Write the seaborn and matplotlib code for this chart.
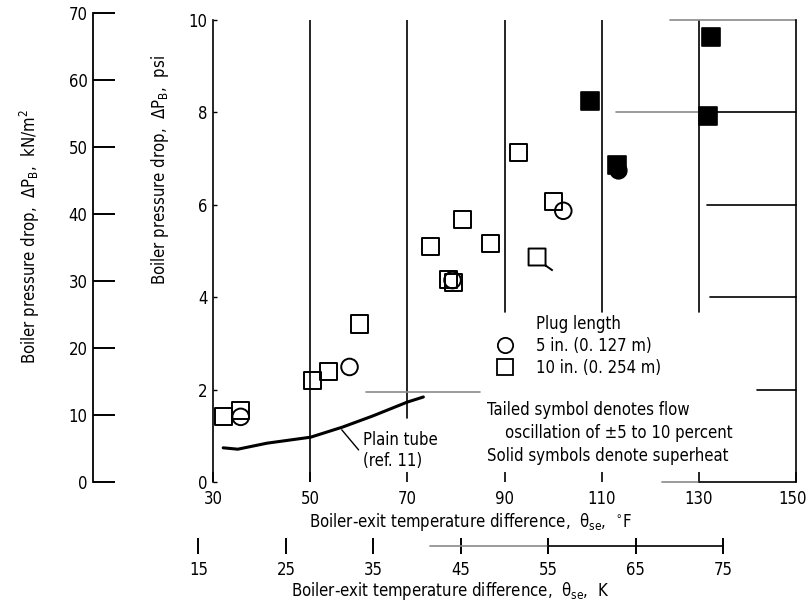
import numpy as np
import pandas as pd
import seaborn as sns
import matplotlib
matplotlib.use('Agg')
from matplotlib import pyplot as plt
from matplotlib import font_manager
from matplotlib import transforms
from matplotlib.lines import Line2D
from matplotlib.path import Path

# boiler-exit temperature difference (F) and pressure drop (psi)
temp_5in_open = [35.7, 58.1, 79.3, 102.1]
dp_5in_open = [1.41, 2.49, 4.37, 5.87]

temp_10in_open = [32.1, 35.7, 50.5, 53.8, 60.2, 74.8, 78.5, 79.5, 81.3, 87.1, 92.8, 100.0]
dp_10in_open = [1.41, 1.54, 2.19, 2.40, 3.42, 5.09, 4.39, 4.31, 5.69, 5.17, 7.14, 6.08]

temp_10in_tailed = [96.7]
dp_10in_tailed = [4.87]

temp_5in_solid = [113.4]
dp_5in_solid = [6.75]

temp_10in_solid = [107.6, 113.2, 131.8, 132.5]
dp_10in_solid = [8.25, 6.86, 7.92, 9.63]

# plain tube curve (ref. 11)
plain_temp = [32.1, 35.1, 41.1, 50.1, 56.7, 62.9, 70.0, 73.3]
plain_dp = [0.74, 0.71, 0.84, 0.97, 1.19, 1.43, 1.73, 1.84]

x_ticks_f = [30, 50, 70, 90, 110, 130, 150]
y_ticks_psi = [0, 2, 4, 6, 8, 10]
y_ticks_kn = [0, 10, 20, 30, 40, 50, 60, 70]
x_ticks_k = [15, 25, 35, 45, 55, 65, 75]

PSI_TO_KN = 6.894757


def pick_font():
    # want a narrow sans like the original lettering
    fonts = font_manager.fontManager.ttflist
    names = {f.name for f in fonts}
    if 'Liberation Sans Narrow' in names:
        return 'Liberation Sans Narrow', 'normal', 12
    if any(f.name == 'DejaVu Sans' and f.stretch == 'condensed' for f in fonts):
        return 'DejaVu Sans', 'condensed', 12
    return 'DejaVu Sans', 'normal', 10.5


family, stretch, FS = pick_font()

sns.set_style('white')
plt.rcParams['font.family'] = [family, 'DejaVu Sans']
plt.rcParams['font.stretch'] = stretch
plt.rcParams['mathtext.fontset'] = 'custom'
pattern = family if stretch == 'normal' else family + ':stretch=' + stretch
plt.rcParams['mathtext.rm'] = pattern
plt.rcParams['mathtext.it'] = pattern
plt.rcParams['mathtext.default'] = 'rm'
plt.rcParams['font.size'] = FS
plt.rcParams['text.color'] = 'black'
plt.rcParams['xtick.color'] = 'black'
plt.rcParams['ytick.color'] = 'black'

W, H = 808, 605
fig = plt.figure(figsize=(W / 100, H / 100), dpi=100)

# pixel frame of the main plot
px_x0, px_x1 = 213, 796
px_y0, px_y1 = 482, 20
ax = fig.add_axes([px_x0 / W, 1 - px_y0 / H, (px_x1 - px_x0) / W, (px_y0 - px_y1) / H])
ax.set_xlim(30, 150)
ax.set_ylim(0, 10)
for s in ['top', 'bottom']:
    ax.spines[s].set_visible(False)
for s in ['left', 'right']:
    ax.spines[s].set_color('black')
    ax.spines[s].set_linewidth(1.2)

# partial rulings as on the original sheet
vsegs = [(50, 0, 10), (70, 1.38, 10), (90, 3.68, 10), (110, 3.68, 10), (130, 3.68, 10)]
for x, y0, y1 in vsegs:
    ax.plot([x, x], [y0, y1], color='black', lw=1.2, zorder=1)
hsegs = [(10, 124, 150, '#8a8a8a'), (8, 113, 130, '#8a8a8a'), (8, 130, 150, 'black'),
         (6, 131.6, 150, 'black'), (4, 132.4, 150, 'black'), (2, 142, 150, 'black'),
         (0, 122.5, 130, '#8a8a8a'), (0, 130, 150, 'black'), (1.95, 61.5, 85, '#8a8a8a')]
for y, x0, x1, c in hsegs:
    ax.plot([x0, x1], [y, y], color=c, lw=1.2, zorder=1, clip_on=False)

# plain tube curve
sns.lineplot(x=plain_temp, y=plain_dp, color='black', lw=2.2, ax=ax, zorder=2)
ax.annotate('Plain tube\n(ref. 11)', xy=(56.5, 1.13), xytext=(60.9, 0.68),
            ha='left', va='center', fontsize=FS, linespacing=1.25,
            arrowprops=dict(arrowstyle='-', color='black', lw=1,
                            shrinkA=1, shrinkB=0,
                            connectionstyle='angle,angleA=0,angleB=-50,rad=0'))

ms = 150
sns.scatterplot(x=temp_10in_open, y=dp_10in_open, marker='s', s=ms, facecolor='none',
                edgecolor='black', linewidth=1.4, ax=ax, zorder=3)
sns.scatterplot(x=temp_5in_open, y=dp_5in_open, marker='o', s=ms * 0.95, facecolor='none',
                edgecolor='black', linewidth=1.4, ax=ax, zorder=3)
# square with a tail to lower right
tail_marker = Path([(-1, -1), (1, -1), (1, 1), (-1, 1), (-1, -1), (1, -1), (1.85, -1.6)],
                   [Path.MOVETO, Path.LINETO, Path.LINETO, Path.LINETO, Path.CLOSEPOLY,
                    Path.MOVETO, Path.LINETO])
sns.scatterplot(x=temp_10in_tailed, y=dp_10in_tailed, marker=tail_marker, s=ms * 3.4,
                facecolor='none', edgecolor='black', linewidth=1.4, ax=ax, zorder=3)
sns.scatterplot(x=temp_5in_solid, y=dp_5in_solid, marker='o', s=ms * 0.95, color='black',
                edgecolor='black', linewidth=1.2, ax=ax, zorder=3)
sns.scatterplot(x=temp_10in_solid, y=dp_10in_solid, marker='s', s=ms, color='black',
                edgecolor='black', linewidth=1.2, ax=ax, zorder=4)

ax.set_xticks(x_ticks_f)
ax.set_yticks(y_ticks_psi)
ax.tick_params(axis='x', bottom=True, direction='in', length=7, width=1.2, pad=6, labelsize=FS)
ax.tick_params(axis='y', left=True, direction='in', length=3, width=1, pad=4, labelsize=FS)
ax.set_xlabel('')
ax.set_ylabel('')
# nudge the last tick label so it stays inside the sheet
last = ax.get_xticklabels()[-1]
last.set_transform(last.get_transform() + transforms.ScaledTranslation(-3 / 100, 0, fig.dpi_scale_trans))

# legend
handles = [Line2D([], [], marker='o', ls='', mfc='none', mec='black', ms=11, mew=1.3),
           Line2D([], [], marker='s', ls='', mfc='none', mec='black', ms=11, mew=1.3)]
leg = ax.legend(handles, ['5 in. (0. 127 m)', '10 in. (0. 254 m)'], title='Plug length',
                loc='upper left', bbox_to_anchor=(86.6, 3.8), bbox_transform=ax.transData,
                frameon=False, fontsize=FS, title_fontsize=FS, handletextpad=1.4,
                labelspacing=0.25, borderpad=0, handlelength=1.0)
leg._legend_box.align = 'center'
ax.text(86.4, 1.56, 'Tailed symbol denotes flow', ha='left', va='center', fontsize=FS)
ax.text(90.1, 1.06, 'oscillation of \u00b15 to 10 percent', ha='left', va='center', fontsize=FS)
ax.text(86.4, 0.56, 'Solid symbols denote superheat', ha='left', va='center', fontsize=FS)

# left axis in kN/m2
kn_top = px_y0 - 70 / PSI_TO_KN * (px_y0 - px_y1) / 10
axk = fig.add_axes([93 / W, 1 - px_y0 / H, 0.001, (px_y0 - kn_top) / H])
axk.set_ylim(0, 70)
axk.set_yticks(y_ticks_kn)
axk.set_xticks([])
for s in ['top', 'bottom', 'right']:
    axk.spines[s].set_visible(False)
axk.spines['left'].set_color('black')
axk.spines['left'].set_linewidth(1.3)
axk.patch.set_visible(False)
axk.tick_params(axis='y', left=True, direction='in', length=16, width=1.4, pad=4, labelsize=FS)

# bottom axis in K
k_lo, k_hi = 12.0, 150 / 1.8
px_per_f = (px_x1 - px_x0) / 120
left_px = px_x0 + (k_lo * 1.8 - 30) * px_per_f
axt = fig.add_axes([left_px / W, 1 - 546 / H, (px_x1 - left_px) / W, 0.0001])
axt.set_xlim(k_lo, k_hi)
axt.set_xticks(x_ticks_k)
axt.set_yticks([])
for s in ['top', 'left', 'right']:
    axt.spines[s].set_visible(False)
axt.spines['bottom'].set_bounds(55, 75)
axt.spines['bottom'].set_linewidth(1.2)
axt.spines['bottom'].set_color('black')
axt.plot([41.5, 55], [0, 0], color='#8a8a8a', lw=1.2, clip_on=False)
axt.patch.set_visible(False)
axt.tick_params(axis='x', bottom=True, direction='inout', length=12, width=1.4, pad=5, labelsize=FS)

fig.text(471 / W, 1 - 522 / H, r'Boiler-exit temperature difference,  $\theta_{se}$,  $^{\circ}$F',
         ha='center', va='center', fontsize=FS)
fig.text(450 / W, 1 - 591 / H, r'Boiler-exit temperature difference,  $\theta_{se}$,  K',
         ha='center', va='center', fontsize=FS)
fig.text(160 / W, 1 - 170 / H, r'Boiler pressure drop,  $\Delta P_B$,  psi',
         ha='center', va='center', rotation=90, fontsize=FS)
fig.text(30 / W, 1 - 237 / H, r'Boiler pressure drop,  $\Delta P_B$,  kN/m$^2$',
         ha='center', va='center', rotation=90, fontsize=FS)

fig.savefig('out.png', dpi=100)
